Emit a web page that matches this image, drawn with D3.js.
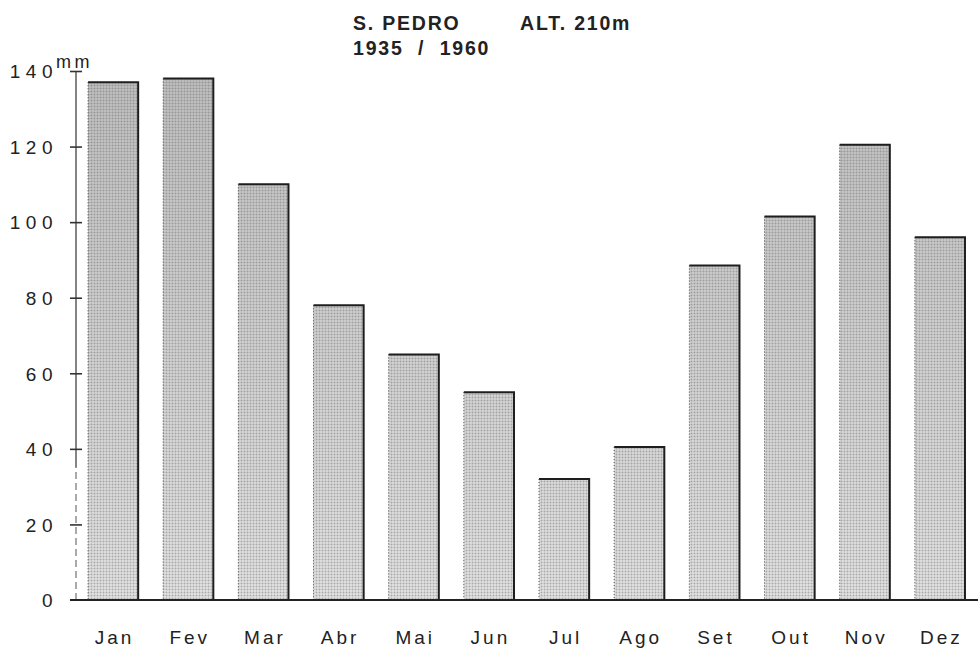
<!DOCTYPE html>
<html lang="pt">
<head>
<meta charset="utf-8">
<title>S. Pedro</title>
<script src="https://d3js.org/d3.v7.min.js"></script>
<style>
  body { margin: 0; background: #fff; }
  .tick text, .lbl { font-family: "Liberation Sans", Arial, sans-serif; fill: #222; }
  .ttl { font-family: "Liberation Sans", Arial, sans-serif; font-weight: bold; font-size: 19.5px; letter-spacing: 1.8px; fill: #222; }
</style>
</head>
<body>
<svg width="979" height="652"></svg>
<script>
// data
var months = ["Jan", "Fev", "Mar", "Abr", "Mai", "Jun", "Jul", "Ago", "Set", "Out", "Nov", "Dez"];
var rain = [137, 138, 110, 78, 65, 55, 32, 40.5, 88.5, 101.5, 120.5, 96];
var yTicks = [0, 20, 40, 60, 80, 100, 120, 140];

var svg = d3.select("svg");
var x0 = 76, x1 = 977, yTop = 71, yBase = 600;

var x = d3.scaleBand().domain(months).range([x0, x1])
  .paddingInner(0.333).paddingOuter(0.16);
var y = d3.scaleLinear().domain([0, 140]).range([yBase, yTop]);

// halftone-ish fill
var defs = svg.append("defs");
var grad = defs.append("linearGradient").attr("id", "shade")
  .attr("gradientUnits", "userSpaceOnUse")
  .attr("x1", 0).attr("y1", yTop).attr("x2", 0).attr("y2", yBase);
grad.append("stop").attr("offset", "0%").attr("stop-color", "#a2a2a2");
grad.append("stop").attr("offset", "100%").attr("stop-color", "#d6d6d6");
var pat = defs.append("pattern").attr("id", "dots")
  .attr("width", 3).attr("height", 3).attr("patternUnits", "userSpaceOnUse");
pat.append("rect").attr("width", 3).attr("height", 3).attr("fill", "#fff").attr("opacity", 0.3);
pat.append("circle").attr("cx", 1.5).attr("cy", 1.5).attr("r", 1).attr("fill", "#444").attr("opacity", 0.35);

var bars = svg.append("g").selectAll("g").data(months).join("g");
bars.append("rect")
  .attr("x", d => x(d)).attr("width", x.bandwidth())
  .attr("y", (d, i) => y(rain[i])).attr("height", (d, i) => yBase - y(rain[i]))
  .attr("fill", "url(#shade)");
bars.append("rect")
  .attr("x", d => x(d)).attr("width", x.bandwidth())
  .attr("y", (d, i) => y(rain[i])).attr("height", (d, i) => yBase - y(rain[i]))
  .attr("fill", "url(#dots)");
// dark top and right edge, dotted left edge
bars.append("path")
  .attr("d", (d, i) => "M" + x(d) + "," + y(rain[i]) + "H" + (x(d) + x.bandwidth()) + "V" + yBase)
  .attr("fill", "none").attr("stroke", "#1e1e1e").attr("stroke-width", 2);
bars.append("line")
  .attr("x1", d => x(d)).attr("x2", d => x(d))
  .attr("y1", (d, i) => y(rain[i])).attr("y2", yBase)
  .attr("stroke", "#444").attr("stroke-width", 1).attr("stroke-dasharray", "1,2");

// y axis
var yAxis = svg.append("g").attr("transform", "translate(" + x0 + ",0)")
  .call(d3.axisLeft(y).tickValues(yTicks).tickSize(6).tickPadding(12));
yAxis.select(".domain").attr("d", "M0," + y(35) + "V" + y(140)).attr("stroke", "#333").attr("stroke-width", 1.2);
yAxis.append("path").attr("d", "M0," + y(0) + "V" + y(35))
  .attr("stroke", "#555").attr("stroke-dasharray", "7,4");
yAxis.selectAll(".tick line").attr("x1", -6).attr("x2", 6).attr("stroke", "#333").attr("stroke-width", 1.6);
yAxis.selectAll(".tick text").attr("font-size", 19).attr("letter-spacing", 5.5).attr("dy", "0.36em");
yAxis.selectAll(".tick").filter(d => d === 0).select("line").remove();

// x axis line
var xAxis = svg.append("g").attr("transform", "translate(0," + yBase + ")")
  .call(d3.axisBottom(x).tickSize(0).tickPadding(31));
xAxis.select(".domain").attr("d", "M70,0H978").attr("stroke", "#222").attr("stroke-width", 1.8);
xAxis.selectAll(".tick text").attr("font-size", 19).attr("letter-spacing", 3).attr("dx", "0.08em");

svg.append("text").attr("class", "lbl").attr("x", 56).attr("y", 68)
  .attr("font-size", 18).attr("letter-spacing", 3.5).text("mm");

svg.append("text").attr("class", "ttl").attr("x", 353).attr("y", 30).text("S. PEDRO");
svg.append("text").attr("class", "ttl").attr("x", 520).attr("y", 30).text("ALT. 210m");
svg.append("text").attr("class", "ttl").attr("x", 353).attr("y", 55)
  .attr("xml:space", "preserve").text("1935  /  1960");
</script>
</body>
</html>
